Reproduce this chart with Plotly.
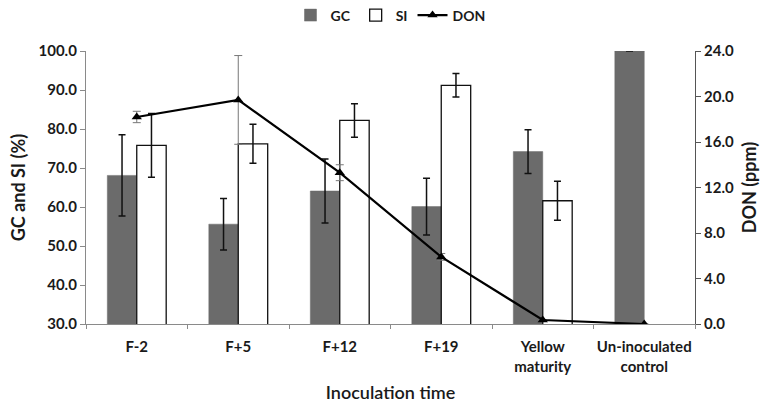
import plotly.graph_objects as go

categories = ["F-2", "F+5", "F+12", "F+19", "Yellow<br>maturity", "Un-inoculated<br>control"]
gc_values = [68.1, 55.6, 64.1, 60.1, 74.2, 100.0]
gc_err = [10.4, 6.6, 8.2, 7.3, 5.6, 0]
si_values = [75.8, 76.2, 82.2, 91.2, 61.6, None]
si_err = [8.2, 5.0, 4.3, 3.0, 5.0, 0]
don_values = [18.2, 19.7, 13.3, 5.9, 0.35, 0.0]
don_err = [0.5, 3.9, 0.7, 0.3, 0.0, 0.0]

font_family = "Lato, Open Sans, sans-serif"
txt = "#1a1a1a"

fig = go.Figure()
fig.add_trace(go.Bar(
    x=categories, y=gc_values, name="GC",
    marker=dict(color="#6b6b6b", line=dict(color="#6b6b6b", width=0.5)),
    error_y=dict(type="data", array=gc_err, color="#111111", thickness=1.5, width=3.5),
))
fig.add_trace(go.Bar(
    x=categories, y=si_values, name="SI",
    marker=dict(color="white", line=dict(color="#111111", width=1.3)),
    error_y=dict(type="data", array=si_err, color="#111111", thickness=1.5, width=3.5),
))
fig.add_trace(go.Scatter(
    x=categories, y=don_values, name="DON", yaxis="y2", mode="lines+markers",
    line=dict(color="#000000", width=2.2),
    marker=dict(symbol="triangle-up", size=9, color="#000000"),
    error_y=dict(type="data", array=don_err, color="#777777", thickness=1, width=4),
))

fig.update_layout(
    width=781, height=406,
    margin=dict(l=86, r=86, t=51, b=82, autoexpand=False),
    paper_bgcolor="white", plot_bgcolor="white",
    barmode="group", bargap=0.42, bargroupgap=0,
    font=dict(family=font_family, color=txt, size=14),
    showlegend=True,
    legend=dict(orientation="h", x=0.5, xanchor="center", y=1.13, yanchor="middle",
                font=dict(size=14, weight="bold"), traceorder="normal",
                itemwidth=30, tracegroupgap=0),
    xaxis=dict(
        type="category", showgrid=False, showline=True, linecolor="#8a8a8a", linewidth=1.2,
        ticks="outside", tickson="boundaries", ticklen=4, tickcolor="#8a8a8a", tickangle=0,
        ticklabelstandoff=9,
        tickfont=dict(size=15, weight="bold", color=txt),
        title=dict(text="Inoculation time", font=dict(size=18, weight=600, color=txt), standoff=12),
    ),
    yaxis=dict(
        range=[30, 100], dtick=10, tickformat=".1f", showgrid=False, zeroline=False,
        showline=True, linecolor="#8a8a8a", linewidth=1.2, ticks="outside", ticklen=5,
        tickcolor="#8a8a8a", tickfont=dict(size=15, weight="bold", color=txt),
        title=dict(text="GC and SI (%)", font=dict(size=18, weight="bold", color=txt), standoff=8),
    ),
    yaxis2=dict(
        range=[0, 24], dtick=4, tickformat=".1f", overlaying="y", side="right",
        showgrid=False, zeroline=False, showline=True, linecolor="#555555", linewidth=1.2,
        ticks="outside", ticklen=5, tickcolor="#555555",
        tickfont=dict(size=15, weight="bold", color=txt),
        title=dict(text="DON (ppm)", font=dict(size=18, weight="bold", color=txt), standoff=10),
    ),
)

fig.write_html("out.html")
